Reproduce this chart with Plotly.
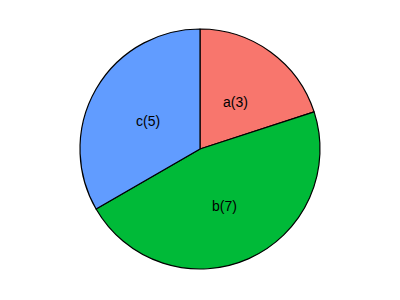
import math
import plotly.graph_objects as go

categories = ["a", "b", "c"]
values = [3, 7, 5]
colors = ["#F8766D", "#00BA38", "#619CFF"]

cx, cy, R = 200, 149, 120
W, H = 400, 300
label_dy = 2  # text sits slightly below the computed centre

fig = go.Figure(go.Pie(
    labels=categories, values=values, sort=False, direction="clockwise", rotation=0,
    marker=dict(colors=colors, line=dict(color="black", width=1.2)),
    textinfo="none", hoverinfo="label+value", showlegend=False,
    domain=dict(x=[(cx - R) / W, (cx + R) / W], y=[(H - cy - R) / H, (H - cy + R) / H]),
))

total = sum(values)
cum = 0
annotations = []
for lab, v in zip(categories, values):
    ang = (cum + v / 2) / total * 2 * math.pi
    cum += v
    x = cx + 0.5 * R * math.sin(ang)
    y = cy - 0.5 * R * math.cos(ang) + label_dy
    annotations.append(dict(x=x / W, y=1 - y / H, xref="paper", yref="paper",
                            xanchor="center", yanchor="middle",
                            text=f"{lab}({v})", showarrow=False,
                            font=dict(family="Liberation Sans, Arial", size=14, color="black")))

fig.update_layout(width=W, height=H, margin=dict(l=0, r=0, t=0, b=0),
                  paper_bgcolor="white", plot_bgcolor="white", annotations=annotations)
fig.write_html("out.html")
